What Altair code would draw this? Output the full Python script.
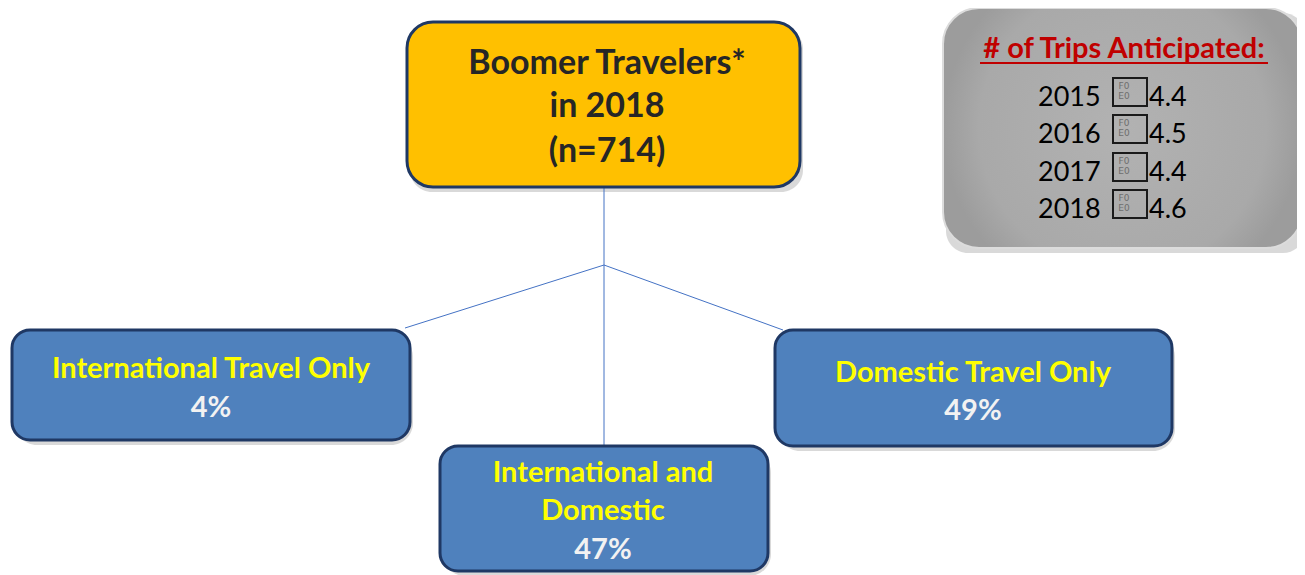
import altair as alt
import pandas as pd

# ---- boxes (diagram coordinates, pixels from top-left) ----
box_names = ["top", "trips", "intl", "both", "dom"]
box_x1 = [407, 943, 12, 440, 775]
box_x2 = [800, 1302, 410, 768, 1172]
box_y1 = [22, 8, 330, 446, 330]
box_y2 = [187, 248, 440, 571, 446]

# ---- connectors ----
conn_x1 = [604, 604, 604]
conn_y1 = [187, 265, 265]
conn_x2 = [604, 405, 783]
conn_y2 = [446, 328, 330]

# ---- texts ----
bold_text = ["Boomer Travelers*", "in 2018", "(n=714)",
             "# of Trips Anticipated:",
             "International Travel Only", "4%",
             "International and", "Domestic", "47%",
             "Domestic Travel Only", "49%"]
bold_x = [607, 607, 607, 1124, 211, 211, 603, 603, 603, 973, 973]
bold_y = [64, 107, 152, 49, 369, 408, 473, 511, 550, 373, 411]
bold_color = ["#262626", "#262626", "#262626", "#C00000",
              "#FFFF00", "#F2F2F2", "#FFFF00", "#FFFF00", "#F2F2F2",
              "#FFFF00", "#F2F2F2"]
bold_size = [34, 34, 34, 29, 29, 29, 29, 29, 29, 29, 29]

trip_years = ["2015", "2016", "2017", "2018"]
trip_values = ["4.4", "4.5", "4.4", "4.6"]
trip_y = [98, 135, 173, 210]
trip_x = 1038
glyph_x1, glyph_x2, value_x = 1113, 1147, 1149

W, H = 1289, 567
xs = alt.Scale(domain=[8, 8 + W], nice=False, zero=False)
ys = alt.Scale(domain=[8 + H, 8], nice=False, zero=False)

boxes = pd.DataFrame({"name": box_names, "x1": box_x1, "x2": box_x2,
                      "y1": box_y1, "y2": box_y2})
conn = pd.DataFrame({"x1": conn_x1, "y1": conn_y1, "x2": conn_x2, "y2": conn_y2})
btxt = pd.DataFrame({"t": bold_text, "x": bold_x, "y": bold_y,
                     "c": bold_color, "s": bold_size})
trips = pd.DataFrame({"year": trip_years, "val": trip_values, "y": trip_y,
                      "x": [trip_x] * 4, "gx1": [glyph_x1] * 4,
                      "gx2": [glyph_x2] * 4, "vx": [value_x] * 4})

X = lambda f: alt.X(f, scale=xs, axis=None)
Y = lambda f: alt.Y(f, scale=ys, axis=None)


def rect_enc(base, dx=0, dy=0):
    return base.transform_calculate(
        sx1=f"datum.x1 + {dx}", sx2=f"datum.x2 + {dx}",
        sy1=f"datum.y1 + {dy}", sy2=f"datum.y2 + {dy}"
    ).encode(x=X("sx1:Q"), x2="sx2:Q", y=Y("sy1:Q"), y2="sy2:Q")


shadow = rect_enc(alt.Chart(boxes).mark_rect(cornerRadius=22, color="#808080", opacity=0.3), 3, 5)

orange = rect_enc(alt.Chart(boxes[boxes.name == "top"]).mark_rect(
    cornerRadius=26, fill="#FFC000", stroke="#1F3864", strokeWidth=3))
blue = rect_enc(alt.Chart(boxes[boxes.name.isin(["intl", "both", "dom"])]).mark_rect(
    cornerRadius=18, fill="#4F81BD", stroke="#1F3864", strokeWidth=3))
gray = rect_enc(alt.Chart(boxes[boxes.name == "trips"]).mark_rect(
    cornerRadius=36,
    fill=alt.RadialGradient(gradient="radial", stops=[
        alt.GradientStop(offset=0, color="#B2B2B2"),
        alt.GradientStop(offset=0.8, color="#A9A9A9"),
        alt.GradientStop(offset=1, color="#9C9C9C")]),
    stroke="#DCDCDC", strokeWidth=2))

lines = alt.Chart(conn).mark_rule(color="#4472C4", strokeWidth=1).encode(
    x=X("x1:Q"), y=Y("y1:Q"), x2="x2:Q", y2="y2:Q")

btext = alt.Chart(btxt).mark_text(font="Lato", fontWeight="bold", align="center",
                                  baseline="middle").encode(
    x=X("x:Q"), y=Y("y:Q"), text="t:N",
    color=alt.Color("c:N", scale=None), size=alt.Size("s:Q", scale=None))

underline = alt.Chart(pd.DataFrame({"x1": [980], "x2": [1268], "y": [63]})).mark_rule(
    color="#C00000", strokeWidth=2).encode(x=X("x1:Q"), x2="x2:Q", y=Y("y:Q"))

tb = alt.Chart(trips)
years = tb.mark_text(font="Lato", fontSize=27, align="left", baseline="middle",
                     color="#000000").encode(x=X("x:Q"), y=Y("y:Q"), text="year:N")
vals = tb.mark_text(font="Lato", fontSize=27, align="left", baseline="middle",
                    color="#000000").encode(x=X("vx:Q"), y=Y("y:Q"), text="val:N")
# the missing-glyph box (U+F0E0) drawn as in the picture
gbox = tb.transform_calculate(gy1="datum.y - 20", gy2="datum.y + 8").mark_rect(
    fill=None, stroke="#1A1A1A", strokeWidth=2).encode(
    x=X("gx1:Q"), x2="gx2:Q", y=Y("gy1:Q"), y2="gy2:Q")
gf0 = tb.transform_calculate(gx="datum.gx1 + 11", gy="datum.y - 12").mark_text(
    font="DejaVu Sans", fontSize=9, color="#6E6E6E").encode(
    x=X("gx:Q"), y=Y("gy:Q"), text=alt.value("F0"))
ge0 = tb.transform_calculate(gx="datum.gx1 + 11", gy="datum.y - 2").mark_text(
    font="DejaVu Sans", fontSize=9, color="#6E6E6E").encode(
    x=X("gx:Q"), y=Y("gy:Q"), text=alt.value("E0"))

chart = alt.layer(shadow, lines, orange, blue, gray, btext, underline,
                  years, gbox, gf0, ge0, vals).properties(
    width=W, height=H, padding=0, background="white",
    autosize=alt.AutoSizeParams(type="none")
).configure_view(stroke=None)

chart.save("out.html", embed_options={"renderer": "svg", "actions": False})
